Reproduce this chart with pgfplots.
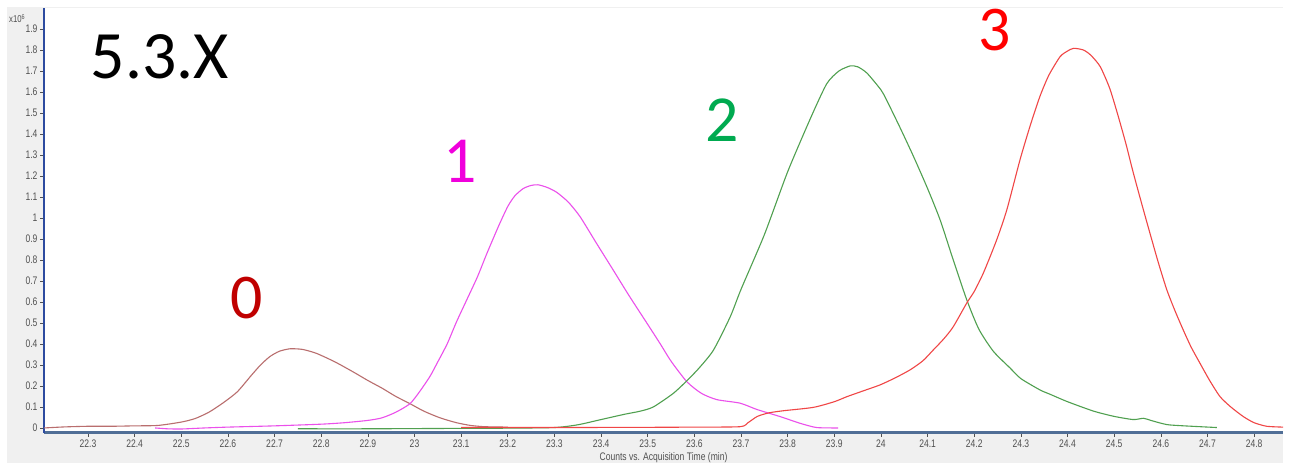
\documentclass[border=0pt]{standalone}
\usepackage{pgfplots}
\pgfplotsset{compat=1.18}
\usepackage{fontspec}
\setmainfont{Liberation Sans}
\newfontfamily\tickfont[FakeStretch=0.78]{Liberation Sans}
\newfontfamily\bigfont{Carlito}
\definecolor{panelgray}{RGB}{240,240,240}
\definecolor{xaxisblue}{RGB}{80,110,150}
\definecolor{yaxisblue}{RGB}{45,75,160}
\definecolor{ticktext}{RGB}{80,80,80}
\definecolor{cA}{RGB}{185,110,110}
\definecolor{cB}{RGB}{235,80,235}
\definecolor{cC}{RGB}{80,160,80}
\definecolor{cD}{RGB}{240,70,70}
\definecolor{lA}{RGB}{192,0,0}
\definecolor{lB}{RGB}{240,0,220}
\definecolor{lC}{RGB}{0,170,80}
\definecolor{lD}{RGB}{255,0,0}

\pgfplotstableread{
x y
22.206 0.000
22.25 0.005
22.30 0.008
22.35 0.008
22.40 0.010
22.45 0.012
22.50 0.028
22.53 0.045
22.56 0.076
22.59 0.120
22.62 0.172
22.65 0.250
22.67 0.300
22.69 0.340
22.71 0.365
22.733 0.377
22.76 0.374
22.79 0.355
22.83 0.314
22.87 0.265
22.90 0.226
22.93 0.190
22.96 0.150
22.99 0.116
23.02 0.080
23.055 0.048
23.09 0.025
23.12 0.012
23.15 0.006
23.20 0.004
}\peakzero

\pgfplotstableread{
x y
22.444 0.000
22.47 -0.004
22.50 -0.005
22.55 0.000
22.60 0.004
22.70 0.010
22.80 0.018
22.85 0.025
22.90 0.036
22.93 0.048
22.96 0.075
22.99 0.115
23.01 0.170
23.033 0.245
23.05 0.315
23.07 0.400
23.09 0.505
23.112 0.610
23.135 0.720
23.155 0.830
23.18 0.960
23.20 1.055
23.215 1.105
23.233 1.140
23.25 1.155
23.265 1.158
23.285 1.145
23.305 1.122
23.33 1.075
23.355 1.006
23.39 0.880
23.426 0.752
23.46 0.630
23.498 0.500
23.527 0.400
23.55 0.318
23.584 0.220
23.615 0.165
23.648 0.135
23.698 0.118
23.734 0.088
23.784 0.054
23.827 0.022
23.862 0.002
23.908 0.000
}\peakone

\pgfplotstableread{
x y
22.75 -0.004
22.90 -0.004
23.00 -0.003
23.10 -0.002
23.20 -0.001
23.30 0.002
23.35 0.015
23.40 0.040
23.45 0.065
23.484 0.080
23.512 0.100
23.555 0.165
23.584 0.225
23.61 0.285
23.641 0.371
23.677 0.530
23.70 0.660
23.75 0.920
23.80 1.220
23.85 1.480
23.884 1.640
23.91 1.700
23.934 1.724
23.95 1.720
23.97 1.690
24.00 1.610
24.012 1.562
24.041 1.430
24.07 1.292
24.10 1.140
24.127 0.990
24.155 0.800
24.184 0.610
24.21 0.470
24.241 0.365
24.277 0.285
24.30 0.235
24.341 0.181
24.363 0.160
24.40 0.125
24.456 0.080
24.50 0.055
24.541 0.040
24.563 0.046
24.58 0.035
24.613 0.016
24.65 0.010
24.72 0.002
}\peaktwo

\pgfplotstableread{
x y
23.10 0.002
23.30 0.002
23.50 0.003
23.60 0.004
23.698 0.006
23.715 0.025
23.735 0.055
23.76 0.072
23.791 0.082
23.855 0.098
23.90 0.125
23.927 0.149
23.96 0.175
23.998 0.205
24.03 0.238
24.062 0.276
24.09 0.320
24.112 0.371
24.135 0.425
24.155 0.482
24.184 0.595
24.20 0.650
24.22 0.740
24.248 0.895
24.27 1.040
24.298 1.276
24.32 1.440
24.341 1.580
24.36 1.680
24.384 1.768
24.40 1.795
24.413 1.808
24.434 1.800
24.45 1.775
24.47 1.721
24.49 1.620
24.506 1.505
24.525 1.355
24.541 1.215
24.56 1.060
24.577 0.925
24.595 0.785
24.613 0.657
24.63 0.560
24.648 0.467
24.665 0.385
24.684 0.308
24.705 0.225
24.727 0.149
24.75 0.100
24.777 0.054
24.80 0.025
24.827 0.008
24.862 0.004
}\peakthree

\begin{document}
\begin{tikzpicture}[x=1bp,y=1bp]
\useasboundingbox (0,0) rectangle (1291,466);
\fill[panelgray] (7,3) rectangle (1283,459);
\begin{axis}[
  at={(44bp,33bp)}, anchor=south west,
  scale only axis, width=1239bp, height=425bp,
  xmin=22.2057, xmax=24.862, ymin=-0.024, ymax=2.0,
  axis background/.style={fill=white},
  axis x line=bottom, axis y line=left,
  x axis line style={-, line width=3bp, color=xaxisblue},
  y axis line style={-, line width=1.8bp, color=yaxisblue},
  xtick={22.3,22.4,22.5,22.6,22.7,22.8,22.9,23,23.1,23.2,23.3,23.4,23.5,23.6,23.7,23.8,23.9,24,24.1,24.2,24.3,24.4,24.5,24.6,24.7,24.8},
  ytick={0,0.1,0.2,0.3,0.4,0.5,0.6,0.7,0.8,0.9,1,1.1,1.2,1.3,1.4,1.5,1.6,1.7,1.8,1.9},
  tick align=outside,
  major tick length=4bp,
  tick style={color=ticktext, line width=0.6bp},
  /pgf/number format/assume math mode=true,
  /pgf/number format/fixed, /pgf/number format/precision=1,
  tick label style={font=\tickfont\fontsize{11}{11}\selectfont, text=ticktext},
  xticklabel style={yshift=1bp},
  yticklabel style={xshift=1bp},
  xlabel={Counts vs. Acquisition Time (min)},
  xlabel style={font=\tickfont\fontsize{11}{11}\selectfont, text=ticktext, yshift=2bp},
  clip=true,
]
\addplot[color=cA, line width=1.1bp, smooth, tension=0.4] table[x=x,y=y] {\peakzero};
\addplot[color=cB, line width=1.1bp, smooth, tension=0.4] table[x=x,y=y] {\peakone};
\addplot[color=cC, line width=1.1bp, smooth, tension=0.4] table[x=x,y=y] {\peaktwo};
\addplot[color=cD, line width=1.1bp, smooth, tension=0.4] table[x=x,y=y] {\peakthree};
\end{axis}
\node[anchor=west, inner sep=0, text=ticktext, font=\tickfont\fontsize{10}{10}\selectfont] at (9,447) {x10\raisebox{3bp}{\fontsize{7}{7}\selectfont 6}};
\node[inner sep=0, font=\bigfont\fontsize{68}{68}\selectfont] at (160,409) {5.3.X};
\node[inner sep=0, text=lA, font=\bigfont\fontsize{64}{64}\selectfont] at (247,168) {0};
\node[inner sep=0, text=lB, font=\bigfont\fontsize{66}{66}\selectfont] at (460,305) {1};
\node[inner sep=0, text=lC, font=\bigfont\fontsize{66}{66}\selectfont] at (722,346) {2};
\node[inner sep=0, text=lD, font=\bigfont\fontsize{64}{64}\selectfont] at (995,436) {3};
\end{tikzpicture}
\end{document}
